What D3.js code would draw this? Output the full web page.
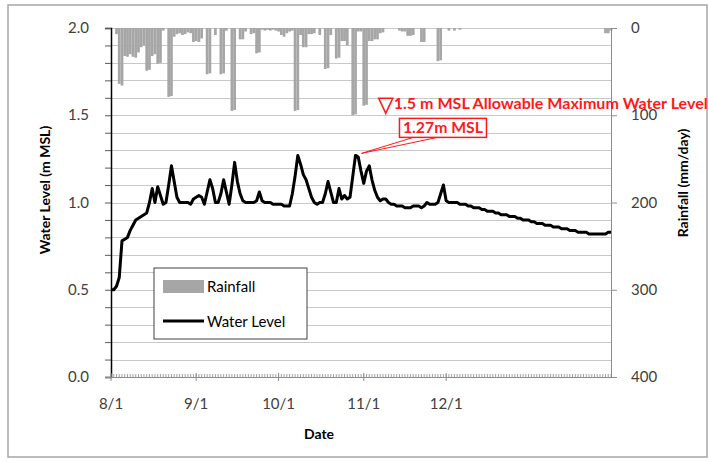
<!DOCTYPE html>
<html>
<head>
<meta charset="utf-8">
<script src="https://cdn.jsdelivr.net/npm/d3@7"></script>
<style>
  body { margin: 0; background: #fff; }
  text { font-family: Lato, "Open Sans", sans-serif; }
</style>
</head>
<body>
<div id="chart"></div>
<script>
// water level, one value per day starting 8/1 (m MSL)
var levelDaily = [
  0.50, 0.50, 0.52, 0.57, 0.78, 0.79, 0.80, 0.84, 0.87, 0.90,
  0.91, 0.92, 0.93, 0.94, 1.00, 1.08, 1.00, 1.09, 1.04, 0.99,
  1.00, 1.10, 1.21, 1.12, 1.03, 1.00, 1.00, 1.00, 1.00, 0.99,
  1.02, 1.03, 1.04, 1.03, 0.99, 1.06, 1.13, 1.08, 1.00, 1.00,
  1.05, 1.13, 1.06, 0.99, 1.10, 1.23, 1.12, 1.05, 1.01, 1.00,
  1.00, 1.00, 1.00, 1.01, 1.06, 1.01, 1.00, 1.00, 1.00, 0.99,
  0.99, 0.99, 0.99, 0.98, 0.98, 0.98, 1.05, 1.15, 1.27, 1.22,
  1.16, 1.13, 1.08, 1.03, 1.00, 0.99, 1.00, 1.00, 1.05, 1.12,
  1.06, 1.00, 1.00, 1.08, 1.02, 1.04, 1.02, 1.03, 1.15, 1.27,
  1.26, 1.18, 1.11, 1.18, 1.21, 1.13, 1.07, 1.03, 1.01, 1.02,
  1.02, 1.00, 0.99, 0.99, 0.98, 0.98, 0.98, 0.97, 0.97, 0.97,
  0.98, 0.98, 0.98, 0.97, 0.98, 1.00, 0.99, 0.99, 0.99, 1.00,
  1.05, 1.10, 1.01, 1.00, 1.00, 1.00, 1.00, 0.99, 0.99, 0.99,
  0.98, 0.98, 0.97, 0.97, 0.97, 0.96, 0.96, 0.95, 0.95, 0.95,
  0.94, 0.94, 0.93, 0.93, 0.93, 0.92, 0.92, 0.92, 0.91, 0.91,
  0.90, 0.90, 0.90, 0.89, 0.89, 0.88, 0.88, 0.88, 0.87, 0.87,
  0.87, 0.86, 0.86, 0.86, 0.85, 0.85, 0.85, 0.84, 0.84, 0.84,
  0.83, 0.83, 0.83, 0.83, 0.82, 0.82, 0.82, 0.82, 0.82, 0.82,
  0.82, 0.83, 0.83
];

// rainfall: day index (from 8/1) and mm/day
var rainDay = [2, 3, 4, 5, 6, 7, 8, 9, 10, 11, 12, 13, 14, 15, 16, 17, 18, 19,
  21, 22, 23, 24, 25, 26, 27, 28, 29, 30, 31, 32, 33, 35, 36, 38, 40, 41, 42,
  44, 45, 47, 48, 49, 51, 52, 53, 54, 55, 56, 57, 58, 59, 60, 61, 62, 63, 64,
  65, 66, 67, 68, 69, 70, 71, 72, 73, 74, 76, 78, 79, 80, 82, 83, 84, 85, 86,
  88, 89, 90, 91, 92, 93, 94, 95, 96, 97, 98, 99, 105, 106, 107, 108, 109, 110,
  113, 114, 119, 120, 123, 125, 127, 180, 181, 182];
var rainMm = [7, 64, 66, 32, 33, 30, 33, 34, 28, 22, 20, 49, 48, 32, 30, 41, 40, 3,
  79, 78, 10, 7, 6, 8, 7, 5, 6, 16, 15, 16, 12, 53, 52, 8, 53, 52, 3,
  95, 94, 13, 13, 4, 7, 6, 29, 28, 2, 3, 2, 3, 2, 3, 4, 8, 10, 6,
  4, 3, 95, 94, 8, 22, 22, 7, 7, 6, 8, 47, 46, 8, 35, 34, 15, 15, 20,
  100, 99, 4, 4, 89, 88, 15, 15, 13, 13, 6, 5, 3, 4, 4, 9, 9, 8,
  16, 16, 38, 37, 3, 3, 2, 6, 6, 3];

var monthDays = [0, 31, 61, 92, 122];
var monthLabels = ["8/1", "9/1", "10/1", "11/1", "12/1"];
var levelTicks = [0.0, 0.5, 1.0, 1.5, 2.0];
var rainTicks = [0, 100, 200, 300, 400];

var W = 709, H = 462;
var plotL = 111, plotR = 611, plotT = 28, plotB = 377;

var svg = d3.select("#chart").append("svg")
    .attr("width", W).attr("height", H);

svg.append("rect").attr("width", W).attr("height", H).attr("fill", "#fff");
// outer frame
svg.append("rect")
    .attr("x", 8).attr("y", 5).attr("width", 699).attr("height", 452)
    .attr("fill", "none").attr("stroke", "#a6a6a6").attr("stroke-width", 1.5);

var x = d3.scaleLinear().domain([0, levelDaily.length - 1]).range([plotL, plotR]);
var y = d3.scaleLinear().domain([0, 2]).range([plotB, plotT]);
var yR = d3.scaleLinear().domain([0, 400]).range([plotT, plotB]);

// gridlines every 0.1
svg.append("g")
  .selectAll("line")
  .data(d3.range(0, 21).map(i => i / 10))
  .join("line")
    .attr("x1", plotL).attr("x2", plotR)
    .attr("y1", d => Math.round(y(d)) + 0.5).attr("y2", d => Math.round(y(d)) + 0.5)
    .attr("stroke", "#c8c8c8");

// rainfall bars hanging from the top
var dayW = x(1) - x(0);
svg.append("g")
  .selectAll("rect")
  .data(rainDay.map((d, i) => ({day: d, mm: rainMm[i]})))
  .join("rect")
    .attr("x", d => x(d.day) - dayW / 2)
    .attr("y", yR(0))
    .attr("width", dayW)
    .attr("height", d => yR(d.mm) - yR(0))
    .attr("fill", "#a6a6a6");

// left axis
var axL = svg.append("g").attr("transform", `translate(${plotL},0)`)
  .call(d3.axisLeft(y).tickValues(d3.range(0, 21).map(i => i / 10)).tickSize(6).tickFormat(""));
axL.select(".domain").attr("stroke", "#000").attr("stroke-width", 1.5);
axL.selectAll(".tick line").attr("stroke", "#595959");
svg.append("g").selectAll("text")
  .data(levelTicks)
  .join("text")
    .attr("x", 89).attr("y", d => y(d) + 5)
    .attr("text-anchor", "end")
    .attr("font-size", 15).attr("fill", "#404040")
    .text(d => d3.format(".1f")(d));

// right axis
var axR = svg.append("g").attr("transform", `translate(${plotR},0)`)
  .call(d3.axisRight(yR).tickValues(rainTicks).tickSize(6).tickFormat(""));
axR.select(".domain").attr("stroke", "#8c8c8c");
axR.selectAll(".tick line").attr("stroke", "#8c8c8c");
svg.append("g").selectAll("text")
  .data(rainTicks)
  .join("text")
    .attr("x", 631).attr("y", d => yR(d) + 5)
    .attr("font-size", 15).attr("fill", "#404040")
    .text(d => d);

// bottom axis: daily minor ticks + month ticks
svg.append("g").selectAll("line")
  .data(d3.range(0, levelDaily.length))
  .join("line")
    .attr("x1", d => x(d)).attr("x2", d => x(d))
    .attr("y1", plotB - 3).attr("y2", plotB)
    .attr("stroke", "#8c8c8c").attr("stroke-width", 0.8);
svg.append("g").selectAll("line")
  .data(monthDays)
  .join("line")
    .attr("x1", d => x(d)).attr("x2", d => x(d))
    .attr("y1", plotB - 4).attr("y2", plotB + 4)
    .attr("stroke", "#8c8c8c");
svg.append("line")
  .attr("x1", plotL - 6).attr("x2", plotR)
  .attr("y1", plotB + 0.5).attr("y2", plotB + 0.5)
  .attr("stroke", "#8c8c8c");
svg.append("g").selectAll("text")
  .data(monthDays)
  .join("text")
    .attr("x", d => x(d)).attr("y", 409)
    .attr("text-anchor", "middle")
    .attr("font-size", 15).attr("fill", "#404040")
    .text((d, i) => monthLabels[i]);

// water level line
svg.append("path")
  .datum(levelDaily)
  .attr("d", d3.line().x((d, i) => x(i)).y(d => y(d)))
  .attr("fill", "none").attr("stroke", "#000")
  .attr("stroke-width", 3).attr("stroke-linejoin", "round");

// axis titles
svg.append("text")
  .attr("transform", "translate(50,190) rotate(-90)")
  .attr("text-anchor", "middle").attr("font-size", 14).attr("font-weight", "bold")
  .text("Water Level (m MSL)");
svg.append("text")
  .attr("transform", "translate(688,183) rotate(-90)")
  .attr("text-anchor", "middle").attr("font-size", 14).attr("font-weight", "bold")
  .text("Rainfall (mm/day)");
svg.append("text")
  .attr("x", 319).attr("y", 439)
  .attr("text-anchor", "middle").attr("font-size", 14).attr("font-weight", "bold")
  .text("Date");

// legend
var lg = svg.append("g").attr("transform", "translate(154,268)");
lg.append("rect").attr("width", 153).attr("height", 71)
  .attr("fill", "#fff").attr("stroke", "#404040");
lg.append("rect").attr("x", 9).attr("y", 12).attr("width", 41).attr("height", 13)
  .attr("fill", "#a6a6a6");
lg.append("text").attr("x", 53).attr("y", 24).attr("font-size", 15).text("Rainfall");
lg.append("line").attr("x1", 9).attr("x2", 50).attr("y1", 53).attr("y2", 53)
  .attr("stroke", "#000").attr("stroke-width", 3);
lg.append("text").attr("x", 53).attr("y", 59).attr("font-size", 15).text("Water Level");

// allowable max level marker
var red = "#ff1a1a";
var tx = x(100), ty = y(1.5) - 2;
svg.append("path")
  .attr("d", `M${tx},${ty} L${tx - 7},${ty - 15} L${tx + 7},${ty - 15} Z`)
  .attr("fill", "none").attr("stroke", red).attr("stroke-width", 1.6);
svg.append("text")
  .attr("x", tx + 8).attr("y", ty - 4)
  .attr("font-family", "'Liberation Sans Narrow', 'Arial Narrow', sans-serif")
  .attr("font-size", 16).attr("font-weight", "bold").attr("fill", red)
  .attr("textLength", 314).attr("lengthAdjust", "spacingAndGlyphs")
  .text("1.5 m MSL Allowable Maximum Water Level");

// peak callout
var px = x(89) + 6, py = y(1.27) - 2;
var bx = x(105), by = y(1.27) - 37;
svg.append("path")
  .attr("d", `M${bx + 14},${by + 19} L${px},${py} L${bx + 38},${by + 19}`)
  .attr("fill", "none").attr("stroke", red).attr("stroke-width", 1);
svg.append("rect")
  .attr("x", bx).attr("y", by).attr("width", 87).attr("height", 19)
  .attr("fill", "#fff").attr("stroke", red).attr("stroke-width", 1.5);
svg.append("text")
  .attr("x", bx + 43.5).attr("y", by + 15)
  .attr("text-anchor", "middle")
  .attr("font-family", "'Liberation Sans Narrow', 'Arial Narrow', sans-serif")
  .attr("font-size", 15).attr("font-weight", "bold").attr("fill", red)
  .attr("textLength", 80).attr("lengthAdjust", "spacingAndGlyphs")
  .text("1.27m MSL");
</script>
</body>
</html>
